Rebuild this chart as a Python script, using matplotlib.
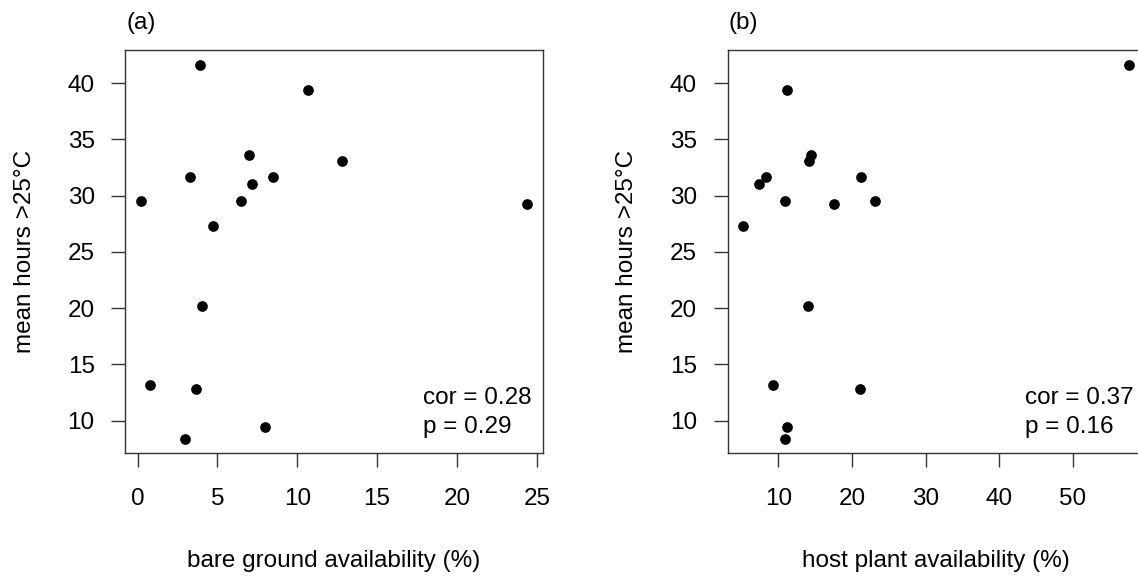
import matplotlib
matplotlib.use("Agg")
import matplotlib.pyplot as plt

plt.rcParams['font.family'] = ['Liberation Sans', 'DejaVu Sans']

# mean hours above 25 C (shared by both panels)
hours = [41.6, 39.4, 33.6, 33.1, 31.7, 31.7, 31.0, 29.5, 29.5, 29.3,
         27.3, 20.2, 13.2, 12.8, 9.45, 8.35]
# bare ground availability (%)
bare = [3.9, 10.7, 7.0, 12.8, 3.3, 8.45, 7.15, 0.2, 6.5, 24.4,
        4.7, 4.05, 0.8, 3.65, 8.0, 2.95]
# host plant availability (%)
host = [57.7, 11.2, 14.4, 14.15, 8.35, 21.2, 7.35, 10.9, 23.2, 17.55,
        5.2, 14.05, 9.3, 21.1, 11.2, 10.9]

panels = [
    ("(a)", bare, "bare ground availability (%)", [0, 5, 10, 15, 20, 25], "cor = 0.28", "p = 0.29"),
    ("(b)", host, "host plant availability (%)", [10, 20, 30, 40, 50], "cor = 0.37", "p = 0.16"),
]
y_ticks = [10, 15, 20, 25, 30, 35, 40]

W, H = 1138, 579
fig = plt.figure(figsize=(W / 100, H / 100), dpi=100)
lefts = [125.3, 727.5]
box_w, box_top, box_bot = 417.4, 50, 453.3

fs = 17.5
for left, (tag, xs, xlab, xt, cor_txt, p_txt) in zip(lefts, panels):
    ax = fig.add_axes([left / W, (H - box_bot) / H, box_w / W, (box_bot - box_top) / H])
    ax.plot(xs, hours, 'o', color='black', markersize=7.7, markeredgewidth=0)
    rng = max(xs) - min(xs)
    ax.set_xlim(min(xs) - 0.04 * rng, max(xs) + 0.04 * rng)
    ax.set_ylim(7.1, 42.95)
    ax.set_xticks(xt)
    ax.set_yticks(y_ticks)
    ax.tick_params(length=10, width=1, color='#333333', labelsize=fs, labelcolor='black')
    ax.tick_params(axis='x', pad=15)
    ax.tick_params(axis='y', pad=12)
    for s in ax.spines.values():
        s.set_color('#333333')
        s.set_linewidth(1)
    ax.set_xlabel(xlab, fontsize=fs, va='center')
    ax.xaxis.set_label_coords(0.5, -0.267)
    ax.set_ylabel("mean hours >25°C", fontsize=fs, va='center')
    ax.yaxis.set_label_coords(-0.24, 0.5)
    ax.text(0.002, 1.067, tag, transform=ax.transAxes, fontsize=fs, ha='left', va='center')
    ax.text(0.713, 0.122, cor_txt, transform=ax.transAxes, fontsize=fs, ha='left', va='baseline')
    ax.text(0.713, 0.051, p_txt, transform=ax.transAxes, fontsize=fs, ha='left', va='baseline')

fig.savefig("out.png", dpi=100)
